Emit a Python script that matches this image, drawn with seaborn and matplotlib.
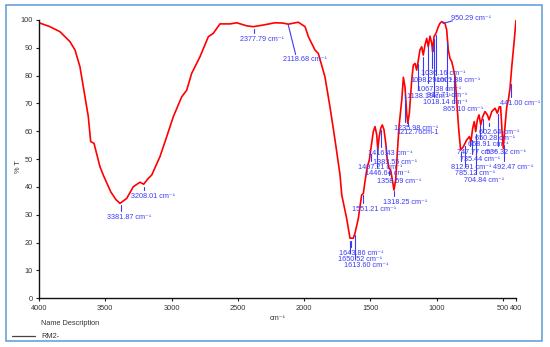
import numpy as np
import pandas as pd
import matplotlib
matplotlib.use("Agg")
import matplotlib.pyplot as plt
import seaborn as sns
from matplotlib.patches import Rectangle

# ---------------- data ----------------
wavenumber = [4000, 3917, 3842, 3766, 3728, 3691, 3666, 3628, 3610, 3585, 3540, 3515,
              3459, 3420, 3389, 3338, 3288, 3238, 3210, 3175, 3149, 3087, 3036, 2986,
              2923, 2885, 2848, 2785, 2722, 2685, 2634, 2558, 2508, 2432, 2383, 2306,
              2219, 2160, 2118, 2043, 1992, 1967, 1917, 1892, 1842, 1804, 1766, 1728,
              1715, 1678, 1653, 1628, 1615, 1590, 1565, 1552, 1540, 1522, 1507, 1489,
              1477, 1464, 1451, 1443, 1434, 1421, 1409, 1396, 1383, 1371, 1358, 1346,
              1333, 1321, 1308, 1296, 1283, 1270, 1262, 1250, 1238, 1225, 1217, 1205,
              1187, 1175, 1162, 1150, 1137, 1125, 1112, 1100, 1087, 1074, 1062, 1049,
              1036, 1029, 1019, 1004, 986, 974, 961, 936, 923, 911, 898, 885, 873, 860,
              853, 843, 832, 823, 818, 797, 772, 752, 740, 727, 715, 704, 692, 679, 666,
              651, 634, 616, 603, 583, 558, 541, 526, 516, 506, 496, 483, 470, 458, 445,
              432, 413, 400]
transmittance = [99.0, 97.6, 95.8, 92.2, 89.2, 83.2, 76.0, 65.3, 56.3, 55.7, 47.3, 44.3,
                 38.3, 35.5, 34.1, 35.9, 40.1, 41.7, 41.0, 43.1, 44.3, 50.9, 58.1, 65.3,
                 72.4, 74.8, 80.8, 86.8, 94.0, 95.2, 98.6, 98.6, 99.0, 97.9, 97.6, 98.2,
                 99.0, 98.9, 98.5, 99.2, 97.6, 94.0, 89.2, 88.0, 79.6, 68.8, 56.9, 44.3,
                 37.1, 28.7, 21.6, 21.6, 23.4, 28.7, 37.1, 37.7, 41.9, 47.3, 49.7, 55.7,
                 59.9, 61.7, 58.7, 53.3, 57.5, 61.1, 62.3, 60.5, 55.7, 49.7, 46.7, 46.1,
                 42.5, 38.9, 42.5, 52.1, 61.7, 67.7, 71.3, 79.4, 76.0, 66.5, 62.9, 66.5,
                 78.4, 83.8, 84.4, 82.0, 85.6, 89.2, 90.4, 87.4, 91.0, 93.4, 90.4, 94.2,
                 91.6, 88.6, 94.0, 95.2, 97.6, 98.8, 99.4, 98.8, 96.4, 89.2, 86.2, 85.0,
                 82.6, 79.6, 74.8, 67.7, 60.5, 55.7, 53.3, 54.5, 56.9, 58.1, 56.3, 61.1,
                 63.5, 59.9, 64.1, 65.9, 62.3, 65.3, 67.1, 65.9, 64.1, 67.1, 68.3, 66.5,
                 68.8, 68.8, 60.5, 53.9, 61.7, 68.8, 71.2, 75.5, 83.2, 92.8, 100.0]

peak_wn = [3381.87, 3208.01, 2377.79, 2118.68, 950.29, 1036.16, 1098.29, 1001.38,
           1067.38, 1138.19, 917.71, 1018.14, 865.10, 441.00, 1235.98, 1212.76,
           602.64, 650.28, 668.91, 747.77, 536.32, 735.44, 812.91, 492.47, 785.12,
           704.84, 1416.43, 1383.55, 1497.21, 1446.64, 1358.59, 1318.25, 1551.21,
           1643.86, 1650.52, 1613.60]
peak_unit = ["cm\u207b\u00b9"] * len(peak_wn)
peak_unit[15] = "cm-1"
peak_sep = [" "] * len(peak_wn)
peak_sep[6] = ""
peak_sep[15] = ""

# label placement (left edge wavenumber, centre %T)
label_x = [3487, 3308, 2483, 2158, 893, 1119, 1200, 1004, 1149, 1225, 1074, 1100,
           949, 521, 1318, 1300, 679, 709, 760, 848, 626, 823, 891, 571, 860, 790,
           1515, 1477, 1590, 1540, 1451, 1402, 1640, 1734, 1741, 1698]
label_y = [29.0, 36.5, 93.1, 85.9, 100.4, 80.6, 78.1, 78.1, 75.2, 72.4, 72.7, 70.2,
           67.7, 70.0, 61.1, 59.6, 59.6, 57.5, 55.1, 52.5, 52.5, 49.7, 47.1, 47.1,
           44.7, 42.3, 52.1, 48.7, 47.1, 44.7, 42.1, 34.4, 32.0, 16.2, 14.0, 11.7]

tick_values = [4000, 3500, 3000, 2500, 2000, 1500, 1000, 500, 400]
ytick_values = list(range(0, 101, 10))

# ---------------- style ----------------
sns.set_style("ticks")
plt.rcParams["font.family"] = ["Liberation Sans", "DejaVu Sans"]
plt.rcParams["axes.unicode_minus"] = False

W, H = 550, 347
fig = plt.figure(figsize=(W / 100, H / 100), dpi=100)
ax = fig.add_axes([39 / W, 1 - 298.3 / H, (516 - 39) / W, (298.3 - 20) / H])

df = pd.DataFrame({"wn": wavenumber, "T": transmittance})
sns.lineplot(data=df, x="wn", y="T", sort=False, estimator=None, color="#ff0000",
             linewidth=1.2, ax=ax)

ax.set_xlim(4000, 400)
ax.set_ylim(0, 100)
ax.set_xticks(tick_values)
ax.set_xticklabels([str(v) for v in tick_values])
ax.set_yticks(ytick_values)
ax.tick_params(axis="both", labelsize=5.3, length=2.5, width=0.8, pad=2,
               colors="#222222", labelcolor="#333333")
for s in ["top", "right"]:
    ax.spines[s].set_visible(False)
for s in ["left", "bottom"]:
    ax.spines[s].set_color("#111111")
    ax.spines[s].set_linewidth(1.0)
ax.set_xlabel("")
ax.set_ylabel("")
ax.patch.set_alpha(0)

blue = "#3a3af5"
wn_asc = np.array(wavenumber[::-1], dtype=float)
t_asc = np.array(transmittance[::-1], dtype=float)
for i, wn in enumerate(peak_wn):
    tc = float(np.interp(wn, wn_asc, t_asc))
    txt = f"{wn:.2f}{peak_sep[i]}{peak_unit[i]}"
    ax.text(label_x[i], label_y[i], txt, fontsize=5.2, color=blue, ha="left",
            va="center", zorder=5)
    if i == 3:
        ax.plot([wn, 2063], [tc - 0.3, 87.6], color=blue, lw=0.8, zorder=4)
    elif i == 4:
        ax.plot([wn, 880], [tc - 0.4, 99.7], color=blue, lw=0.8, zorder=4)
    else:
        y0 = tc - 1.0
        y1 = label_y[i] + 2.3
        if y0 > y1:
            ax.plot([wn, wn], [y0, y1], color=blue, lw=0.8, zorder=4)

fig.text(278 / W, 1 - 319 / H, "cm\u207b\u00b9", fontsize=5.3, ha="center",
         va="center", color="#333333")
fig.text(18 / W, 1 - 167 / H, "% T", fontsize=5.3, rotation=90, ha="center",
         va="center", color="#333333")

# legend area
fig.text(41 / W, 1 - 323.5 / H, "Name Description", fontsize=5.3, ha="left",
         va="center", color="#333333")
fig.text(41 / W, 1 - 336 / H, "RM2-", fontsize=5.3, ha="left", va="center",
         color="#333333")
fig.add_artist(plt.Line2D([12 / W, 35 / W], [1 - 336 / H, 1 - 336 / H],
                          color="#444444", lw=0.9))

# outer blue frame
fig.add_artist(Rectangle((5.5 / W, 1 - 340.5 / H), (542 - 5.5) / W, (340.5 - 5) / H,
                         fill=False, edgecolor="#5b9bd5", lw=1.1,
                         transform=fig.transFigure))

fig.savefig("out.png", dpi=100)
